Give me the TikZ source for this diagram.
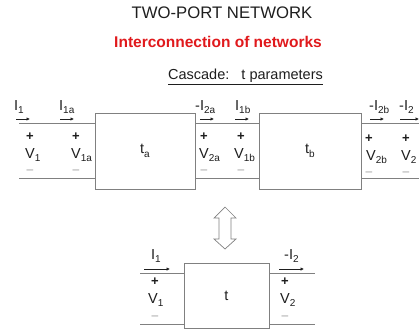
\documentclass[tikz,border=0pt]{standalone}
\usepackage{fontspec}
\setmainfont{Liberation Sans}
\usetikzlibrary{arrows.meta}
\definecolor{wire}{HTML}{808080}
\definecolor{txt}{HTML}{1E1E1E}
\definecolor{redt}{HTML}{E0191C}
\definecolor{minus}{HTML}{9A9A9A}
\newcommand\sbs[1]{\raisebox{-0.45ex}{\fontsize{10}{10}\selectfont #1}}
\begin{document}
\begin{tikzpicture}[x=1pt,y=-1pt,
  netbox/.style={draw=wire, line width=0.9pt, inner sep=0pt, text=txt, font=\fontsize{14.5}{15}\selectfont},
  wireline/.style={draw=wire, line width=0.9pt},
  lbl/.style={inner sep=0pt, anchor=west, text=txt, font=\fontsize{14.5}{15}\selectfont},
  pls/.style={inner sep=0pt, text=txt, font=\bfseries\fontsize{13}{13}\selectfont},
  mns/.style={inner sep=0pt, text=minus, font=\fontsize{12}{12}\selectfont},
  cur/.style={draw=txt, line width=0.6pt, -{Latex[length=3.5pt,width=3.5pt]}}]
\useasboundingbox (0,0) rectangle (419,329);
% titles
\node[inner sep=0pt, text=txt, font=\fontsize{16.7}{17}\selectfont] (title) at (222,13) {TWO-PORT NETWORK};
\node[inner sep=0pt, text=redt, font=\bfseries\fontsize{15.5}{16}\selectfont] (sub) at (218,42) {Interconnection of networks};
\node[inner sep=0pt, text=txt, font=\fontsize{14.5}{15}\selectfont] (casc) at (245.5,77) {\underline{Cascade:\ \ \ t parameters}};
% boxes
\node[netbox, minimum width=100pt, minimum height=76pt] (ta) at (145,151) {t\sbs{a}};
\node[netbox, minimum width=102pt, minimum height=76pt] (tb) at (310,151) {t\sbs{b}};
\node[netbox, minimum width=85pt, minimum height=65pt] (t) at (226.5,295.5) {t};
% wire coordinates
\coordinate (top) at (0,123);
\coordinate (bot) at (0,178);
\coordinate (inT) at (19,123);
\coordinate (inB) at (19,178);
\coordinate (outT) at (419,123);
\coordinate (outB) at (419,178);
\draw[wireline] (inT) -- (inT -| ta.west);
\draw[wireline] (inB) -- (inB -| ta.west);
\draw[wireline] (ta.east |- top) -- (tb.west |- top);
\draw[wireline] (ta.east |- bot) -- (tb.west |- bot);
\draw[wireline] (tb.east |- top) -- (outT);
\draw[wireline] (tb.east |- bot) -- (outB);
% bottom network wires
\coordinate (binT) at (140,273);
\coordinate (binB) at (140,324);
\coordinate (boutT) at (315,273);
\coordinate (boutB) at (315,324);
\draw[wireline] (binT) -- (binT -| t.west);
\draw[wireline] (binB) -- (binB -| t.west);
\draw[wireline] (t.east |- boutT) -- (boutT);
\draw[wireline] (t.east |- boutB) -- (boutB);
% top labels: port 1
\node[lbl] (lI1) at (14,107) {I\sbs{1}};
\coordinate (a1s) at (16,119); \coordinate (a1e) at (30,119);
\draw[cur] (a1s) -- (a1e);
\node[pls] (p1) at (30,137) {+};
\node[lbl] (lV1) at (25,155) {V\sbs{1}};
\node[mns] (m1) at (30,172) {--};
% port 1a
\node[lbl] (lI1a) at (59,107) {I\sbs{1a}};
\coordinate (a2s) at (60,119); \coordinate (a2e) at (74,119);
\draw[cur] (a2s) -- (a2e);
\node[pls] (p2) at (76,137) {+};
\node[lbl] (lV1a) at (71,155) {V\sbs{1a}};
\node[mns] (m2) at (76,172) {--};
% port 2a
\node[lbl] (lI2a) at (195,107) {-I\sbs{2a}};
\coordinate (a3s) at (200,119); \coordinate (a3e) at (214,119);
\draw[cur] (a3s) -- (a3e);
\node[pls] (p3) at (204,137) {+};
\node[lbl] (lV2a) at (199,155) {V\sbs{2a}};
\node[mns] (m3) at (204,172) {--};
% port 1b
\node[lbl] (lI1b) at (235,107) {I\sbs{1b}};
\coordinate (a4s) at (235,119); \coordinate (a4e) at (249,119);
\draw[cur] (a4s) -- (a4e);
\node[pls] (p4) at (241,137) {+};
\node[lbl] (lV1b) at (234,155) {V\sbs{1b}};
\node[mns] (m4) at (241,172) {--};
% port 2b
\node[lbl] (lI2b) at (369,107) {-I\sbs{2b}};
\coordinate (a5s) at (370,119); \coordinate (a5e) at (384,119);
\draw[cur] (a5s) -- (a5e);
\node[pls] (p5) at (369,139) {+};
\node[lbl] (lV2b) at (366,157) {V\sbs{2b}};
\node[mns] (m5) at (369,174) {--};
% port 2
\node[lbl] (lI2) at (399,107) {-I\sbs{2}};
\coordinate (a6s) at (400,119); \coordinate (a6e) at (419,119);
\draw[cur] (a6s) -- (a6e);
\node[pls] (p6) at (406,139) {+};
\node[lbl] (lV2) at (401,157) {V\sbs{2}};
\node[mns] (m6) at (406,174) {--};
% double arrow
\draw[draw=wire, line width=0.7pt, fill=white] (225,207) -- (236,218) -- (231,218) -- (231,239) -- (236,239) -- (225,249) -- (214,239) -- (219,239) -- (219,218) -- (214,218) -- cycle;
% bottom labels
\node[lbl] (bI1) at (151,256) {I\sbs{1}};
\coordinate (b1s) at (144,269); \coordinate (b1e) at (170,269);
\draw[cur] (b1s) -- (b1e);
\node[pls] (bp1) at (155,282) {+};
\node[lbl] (bV1) at (148,300) {V\sbs{1}};
\node[mns] (bm1) at (155,318) {--};
\node[lbl] (bI2) at (284,256) {-I\sbs{2}};
\coordinate (b2s) at (279,269); \coordinate (b2e) at (304,269);
\draw[cur] (b2s) -- (b2e);
\node[pls] (bp2) at (285,282) {+};
\node[lbl] (bV2) at (280,300) {V\sbs{2}};
\node[mns] (bm2) at (285,318) {--};
\end{tikzpicture}
\end{document}
